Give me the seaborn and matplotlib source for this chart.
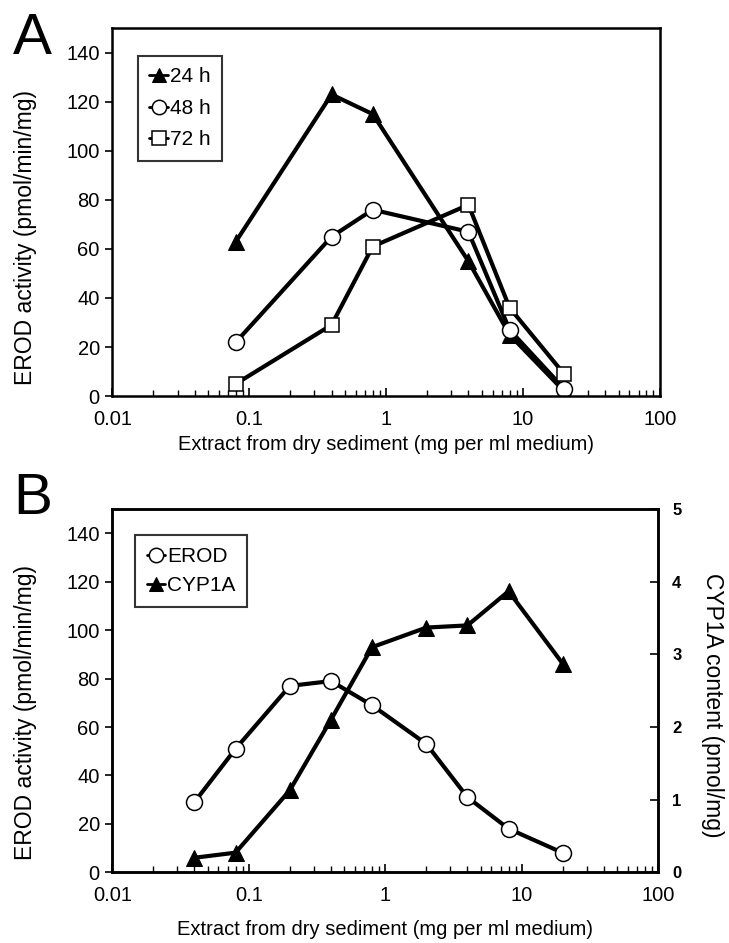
import matplotlib
matplotlib.use("Agg")
import matplotlib.pyplot as plt
import seaborn as sns
import numpy as np
from matplotlib.ticker import LogLocator, FixedLocator, NullFormatter, FixedFormatter

sns.set_theme(style="ticks")
plt.rcParams['font.family'] = ['Liberation Sans', 'DejaVu Sans']
for k in ['text.color', 'axes.labelcolor', 'xtick.color', 'ytick.color', 'axes.edgecolor']:
    plt.rcParams[k] = 'black'

# ---- Data ----
conc_a = [0.08, 0.4, 0.8, 4, 8, 20]
erod_24h = [63, 123, 115, 55, 25, 2]
erod_48h = [22, 65, 76, 67, 27, 3]
erod_72h = [5, 29, 61, 78, 36, 9]

conc_b = [0.04, 0.08, 0.2, 0.4, 0.8, 2, 4, 8, 20]
erod_b = [29, 51, 77, 79, 69, 53, 31, 18, 8]
cyp1a_b = [0.2, 0.27, 1.13, 2.1, 3.1, 3.37, 3.4, 3.87, 2.87]

x_ticks = [0.01, 0.1, 1, 10, 100]
x_ticklabels = ["0.01", "0.1", "1", "10", "100"]
y_ticks = [0, 20, 40, 60, 80, 100, 120, 140]
y2_ticks = [0, 1, 2, 3, 4, 5]

xlabel = "Extract from dry sediment (mg per ml medium)"
ylabel = "EROD activity (pmol/min/mg)"
y2label = "CYP1A content (pmol/mg)"

fig = plt.figure(figsize=(7.29, 9.43), dpi=100)
axA = fig.add_axes([0.154, 0.580, 0.751, 0.390])
axB = fig.add_axes([0.154, 0.075, 0.749, 0.385])

LW = 3.0
tri = dict(marker='^', markersize=11, markerfacecolor='black', markeredgecolor='black')
circ = dict(marker='o', markersize=11.5, markerfacecolor='white', markeredgecolor='black', markeredgewidth=1.1)
sq = dict(marker='s', markersize=10.5, markerfacecolor='white', markeredgecolor='black', markeredgewidth=1.1)

TFS = 14.5
LFS = 16.5

def style_axis(ax, xpad, ylab_y):
    ax.set_xscale('log')
    ax.set_xlim(0.01, 100)
    ax.set_ylim(0, 150)
    ax.xaxis.set_major_locator(FixedLocator(x_ticks))
    ax.xaxis.set_major_formatter(FixedFormatter(x_ticklabels))
    ax.xaxis.set_minor_locator(LogLocator(base=10, subs=np.arange(2, 10)))
    ax.xaxis.set_minor_formatter(NullFormatter())
    ax.set_yticks(y_ticks)
    ax.tick_params(axis='x', which='major', direction='in', length=6, width=1.2, labelsize=TFS, pad=10)
    ax.tick_params(axis='x', which='minor', direction='in', length=4, width=1.0)
    ax.tick_params(axis='y', which='major', direction='out', length=5, width=1.2, labelsize=TFS, pad=4)
    for s in ax.spines.values():
        s.set_linewidth(1.8)
        s.set_color('black')
    ax.set_xlabel(xlabel, fontsize=TFS, labelpad=xpad)
    ax.set_ylabel(ylabel, fontsize=LFS, va='center')
    ax.yaxis.set_label_coords(-0.159, ylab_y)

# ---- Panel A ----
axA.set_xscale('log')
sns.lineplot(x=conc_a, y=erod_24h, ax=axA, color='black', linewidth=LW, label='24 h', **tri)
sns.lineplot(x=conc_a, y=erod_48h, ax=axA, color='black', linewidth=LW, label='48 h', **circ)
sns.lineplot(x=conc_a, y=erod_72h, ax=axA, color='black', linewidth=LW, label='72 h', **sq)
style_axis(axA, 4, 0.43)
legA = axA.legend(loc='upper left', bbox_to_anchor=(0.047, 0.925), fontsize=TFS + 0.5, frameon=True,
                  fancybox=False, edgecolor='black', handlelength=0.9, handletextpad=0.1,
                  borderpad=0.55, labelspacing=0.6, markerscale=0.9, borderaxespad=0)
legA.get_frame().set_linewidth(1.5)
for h in legA.legend_handles:
    h.set_linewidth(2.0)

# ---- Panel B ----
axB.set_xscale('log')
sns.lineplot(x=conc_b, y=erod_b, ax=axB, color='black', linewidth=LW, label='EROD', **circ)
axB2 = axB.twinx()
sns.lineplot(x=conc_b, y=cyp1a_b, ax=axB2, color='black', linewidth=LW, label='CYP1A', **tri)
style_axis(axB, 11, 0.44)
axB2.set_ylim(0, 5)
axB2.set_yticks(y2_ticks)
axB2.tick_params(axis='y', direction='in', length=6, width=1.2, labelsize=12, pad=10)
for lab in axB2.get_yticklabels():
    lab.set_fontweight('bold')
axB2.set_ylabel(y2label, fontsize=LFS, rotation=270, va='center')
axB2.yaxis.set_label_coords(1.099, 0.46)
for s in axB2.spines.values():
    s.set_linewidth(1.8)
    s.set_color('black')
if axB2.get_legend() is not None:
    axB2.get_legend().remove()
h1, l1 = axB.get_legend_handles_labels()
h2, l2 = axB2.get_legend_handles_labels()
legB = axB.legend(h1 + h2, l1 + l2, loc='upper left', bbox_to_anchor=(0.042, 0.928), fontsize=TFS + 0.5,
                  frameon=True, fancybox=False, edgecolor='black', handlelength=0.9,
                  handletextpad=0.1, borderpad=0.55, labelspacing=0.5, markerscale=0.9,
                  borderaxespad=0)
legB.get_frame().set_linewidth(1.5)
for h in legB.legend_handles:
    h.set_linewidth(2.0)
axB.set_zorder(axB2.get_zorder() + 1)
axB.patch.set_visible(False)

# Panel letters
fig.text(0.018, 0.987, "A", fontsize=42, ha='left', va='top', color='black')
fig.text(0.018, 0.500, "B", fontsize=42, ha='left', va='top', color='black')

fig.savefig("out.png", dpi=100, facecolor='white')
